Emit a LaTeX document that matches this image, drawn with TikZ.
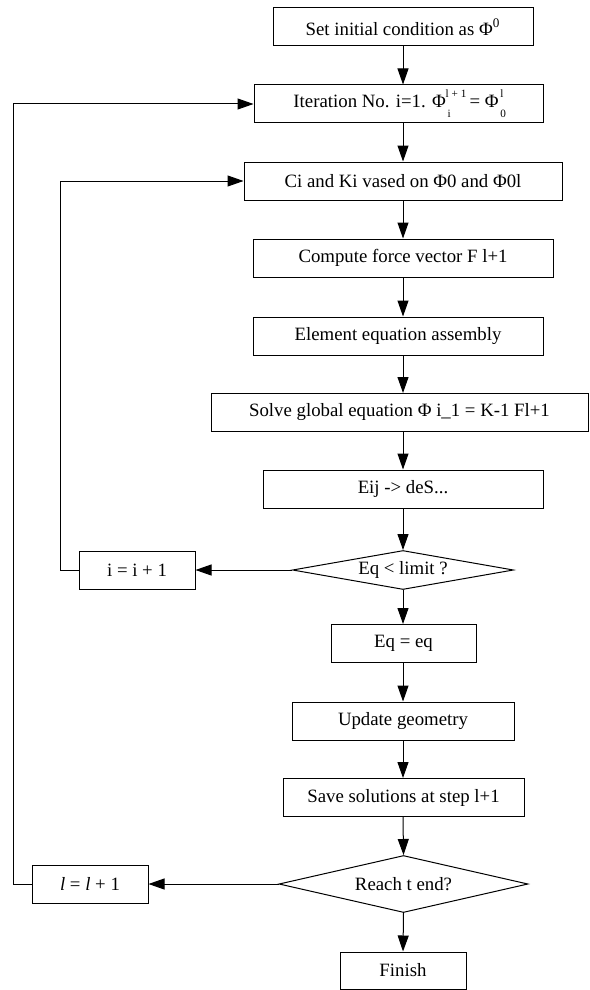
\documentclass[tikz,border=0pt]{standalone}
\usepackage{fontspec}
\setmainfont{Liberation Serif}
\usetikzlibrary{arrows.meta,shapes.geometric}
\newcommand{\phisupsub}[2]{Φ\rlap{\raisebox{-0.55em}{\fontsize{5.6}{6}\selectfont\,#2}}\raisebox{0.5em}{\fontsize{5.6}{6}\selectfont #1}}
\begin{document}
\begin{tikzpicture}[x=0.5pt,y=-0.5pt,
  font=\fontsize{9.4}{11}\selectfont,
  box/.style={draw, line width=0.5pt, rectangle, inner sep=0pt, minimum height=19pt},
  dia/.style={draw, line width=0.5pt, diamond, inner sep=0pt},
  arr/.style={-{Triangle[length=8pt,width=5.5pt]}, line width=0.5pt}]
\useasboundingbox (0,0) rectangle (589,990);
\coordinate (c) at (403,0);
\coordinate (lp1) at (60,0);
\coordinate (lp2) at (13,0);
\node[box, minimum width=130pt] (set) at (403,27) {Set initial condition as Φ\textsuperscript{0}};
\node[box, minimum width=144.5pt] (iter) at (398.5,104) {Iteration No. i=1. \phisupsub{l + 1}{i}\,= \phisupsub{\,l}{0}};
\node[box, minimum width=159pt] (ci) at (403,181) {Ci and Ki vased on Φ0 and Φ0l};
\node[box, minimum width=150pt] (comp) at (403,258) {Compute force vector F l+1};
\node[box, minimum width=145pt] (elem) at (398,336) {Element equation assembly};
\node[box, minimum width=188.5pt] (solve) at (399.5,412.5) {Solve global equation Φ i\_1 = K-1 Fl+1};
\node[box, minimum width=140pt] (eij) at (403,489) {Eij -> deS...};
\node[dia, aspect=5.6, minimum width=110.5pt, minimum height=19.5pt] (dia1) at (403,570) {Eq < limit ?};
\node[box, minimum width=58pt] (ibox) at (137,570) {i = i + 1};
\node[box, minimum width=72.5pt] (eq) at (403.5,643.5) {Eq = eq};
\node[box, minimum width=111pt] (upd) at (403,721) {Update geometry};
\node[box, minimum width=120.5pt] (save) at (403.5,797.5) {Save solutions at step l+1};
\node[dia, aspect=4.4, minimum width=124.5pt, minimum height=28.5pt] (reach) at (403.5,884) {Reach t end?};
\node[box, minimum width=58pt] (lbox) at (90,884) {\textit{l} = \textit{l} + 1};
\node[box, minimum width=63pt, minimum height=18.5pt] (fin) at (403,970.5) {Finish};
\draw[arr] (set.south -| c) -- (iter.north -| c);
\draw[arr] (iter.south -| c) -- (ci.north -| c);
\draw[arr] (ci.south -| c) -- (comp.north -| c);
\draw[arr] (comp.south -| c) -- (elem.north -| c);
\draw[arr] (elem.south -| c) -- (solve.north -| c);
\draw[arr] (solve.south -| c) -- (eij.north -| c);
\draw[arr] (eij.south -| c) -- (dia1.north);
\draw[arr] (dia1.south) -- (eq.north -| c);
\draw[arr] (eq.south -| c) -- (upd.north -| c);
\draw[arr] (upd.south -| c) -- (save.north -| c);
\draw[arr] (save.south -| c) -- (reach.north);
\draw[arr] (reach.south) -- (fin.north -| c);
\draw[arr] (dia1.west) -- (ibox.east);
\draw[arr] (reach.west) -- (lbox.east);
\draw[arr] (ibox.west) -- (ibox.west -| lp1) |- (ci.west);
\draw[arr] (lbox.west) -- (lbox.west -| lp2) |- (iter.west);
\end{tikzpicture}
\end{document}
